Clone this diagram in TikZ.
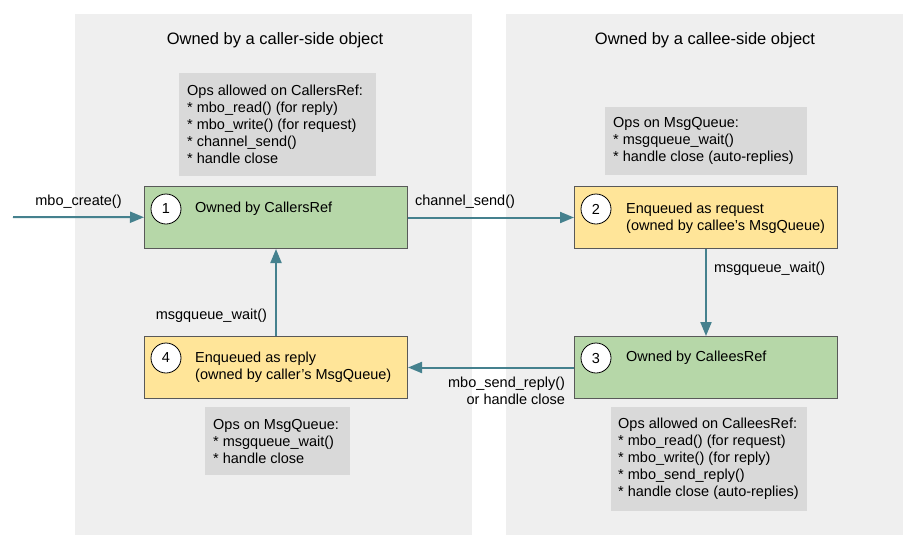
\documentclass[tikz,border=0pt]{standalone}
\usepackage{fontspec}
\setmainfont{Liberation Sans}
\usetikzlibrary{arrows.meta,positioning}
\definecolor{panelgray}{HTML}{EFEFEF}
\definecolor{opsgray}{HTML}{D9D9D9}
\definecolor{ownedgreen}{HTML}{B6D7A8}
\definecolor{queuedyellow}{HTML}{FFE599}
\definecolor{flowteal}{HTML}{45818E}
\definecolor{edgegray}{HTML}{595959}

\begin{document}
\begin{tikzpicture}[x=1pt,y=-1pt,
  txt/.style={font=\fontsize{14.5}{17}\selectfont, inner sep=0pt, align=left},
  title/.style={font=\fontsize{16.5}{20}\selectfont, inner sep=0pt},
  opsbox/.style={fill=opsgray, inner sep=0pt, anchor=north west},
  state/.style={draw=edgegray, line width=1pt, minimum width=263, minimum height=62,
    inner sep=0pt, anchor=north west},
  num/.style={circle, draw=black, line width=0.8pt, fill=white, minimum size=30,
    inner sep=0pt, font=\fontsize{14.5}{17}\selectfont},
  flow/.style={draw=flowteal, line width=2pt, -{Triangle[length=14pt,width=11pt]}}]
  \fill[white] (0,0) rectangle (916,550);
  \useasboundingbox (0,0) rectangle (916,550);
  % the two ownership areas
  \fill[panelgray] (75,14) rectangle (472,535);
  \fill[panelgray] (506,14) rectangle (903,535);
  \node[title] (callertitle) at (275,40) {Owned by a caller-side object};
  \node[title] (calleetitle) at (705,40) {Owned by a callee-side object};
  % allowed operations
  \node[opsbox, minimum width=197, minimum height=103] (callerops) at (179,73) {};
  \node[txt, anchor=west] (calleropstext) at ([xshift=8pt]callerops.west)
    {Ops allowed on CallersRef:\\* mbo\_read() (for reply)\\* mbo\_write() (for request)\\* channel\_send()\\* handle close};
  \node[opsbox, minimum width=202, minimum height=68] (calleeqops) at (605,107) {};
  \node[txt, anchor=west] (calleeqopstext) at ([xshift=8pt]calleeqops.west)
    {Ops on MsgQueue:\\* msgqueue\_wait()\\* handle close (auto-replies)};
  \node[opsbox, minimum width=196, minimum height=104] (calleeops) at (611,407) {};
  \node[txt, anchor=west] (calleeopstext) at ([xshift=7pt]calleeops.west)
    {Ops allowed on CalleesRef:\\* mbo\_read() (for request)\\* mbo\_write() (for reply)\\* mbo\_send\_reply()\\* handle close (auto-replies)};
  \node[opsbox, minimum width=145, minimum height=68] (callerqops) at (205,407) {};
  \node[txt, anchor=west] (callerqopstext) at ([xshift=8pt]callerqops.west)
    {Ops on MsgQueue:\\* msgqueue\_wait()\\* handle close};
  % states
  \node[state, fill=ownedgreen] (callersref) at (144,186) {};
  \node[num] (one) at (166,209) {1};
  \node[txt, anchor=west] (callersreftext) at (195,209) {Owned by CallersRef};
  \node[state, fill=queuedyellow] (calleeq) at (574,186) {};
  \node[num] (two) at (596,209) {2};
  \node[txt, anchor=west] (calleeqtext) at (626,218) {Enqueued as request\\(owned by callee's MsgQueue)};
  \node[state, fill=ownedgreen] (calleesref) at (574,336) {};
  \node[num] (three) at (596,358) {3};
  \node[txt, anchor=west] (calleesreftext) at (626,358) {Owned by CalleesRef};
  \node[state, fill=queuedyellow] (callerq) at (144,336) {};
  \node[num] (four) at (166,358) {4};
  \node[txt, anchor=west] (callerqtext) at (195,367) {Enqueued as reply\\(owned by caller's MsgQueue)};
  % transitions
  \coordinate (entry) at (13,217);
  \draw[flow] (entry) -- node[txt, above=8pt] (createlbl) {mbo\_create()} (callersref);
  \draw[flow] (callersref) -- node[txt, pos=0, above right=8pt and 6pt] (sendlbl) {channel\_send()} (calleeq);
  \draw[flow] (calleeq) -- node[txt, pos=0.23, right=7pt] (waitlbl) {msgqueue\_wait()} (calleesref);
  \draw[flow] (calleesref) -- node[txt, pos=0, below left=8pt and 8pt, align=right] (replylbl)
    {mbo\_send\_reply()\\or handle close} (callerq);
  \draw[flow] (callerq) -- node[txt, pos=0.23, left=8pt] (pollbl) {msgqueue\_wait()} (callersref);
\end{tikzpicture}
\end{document}
